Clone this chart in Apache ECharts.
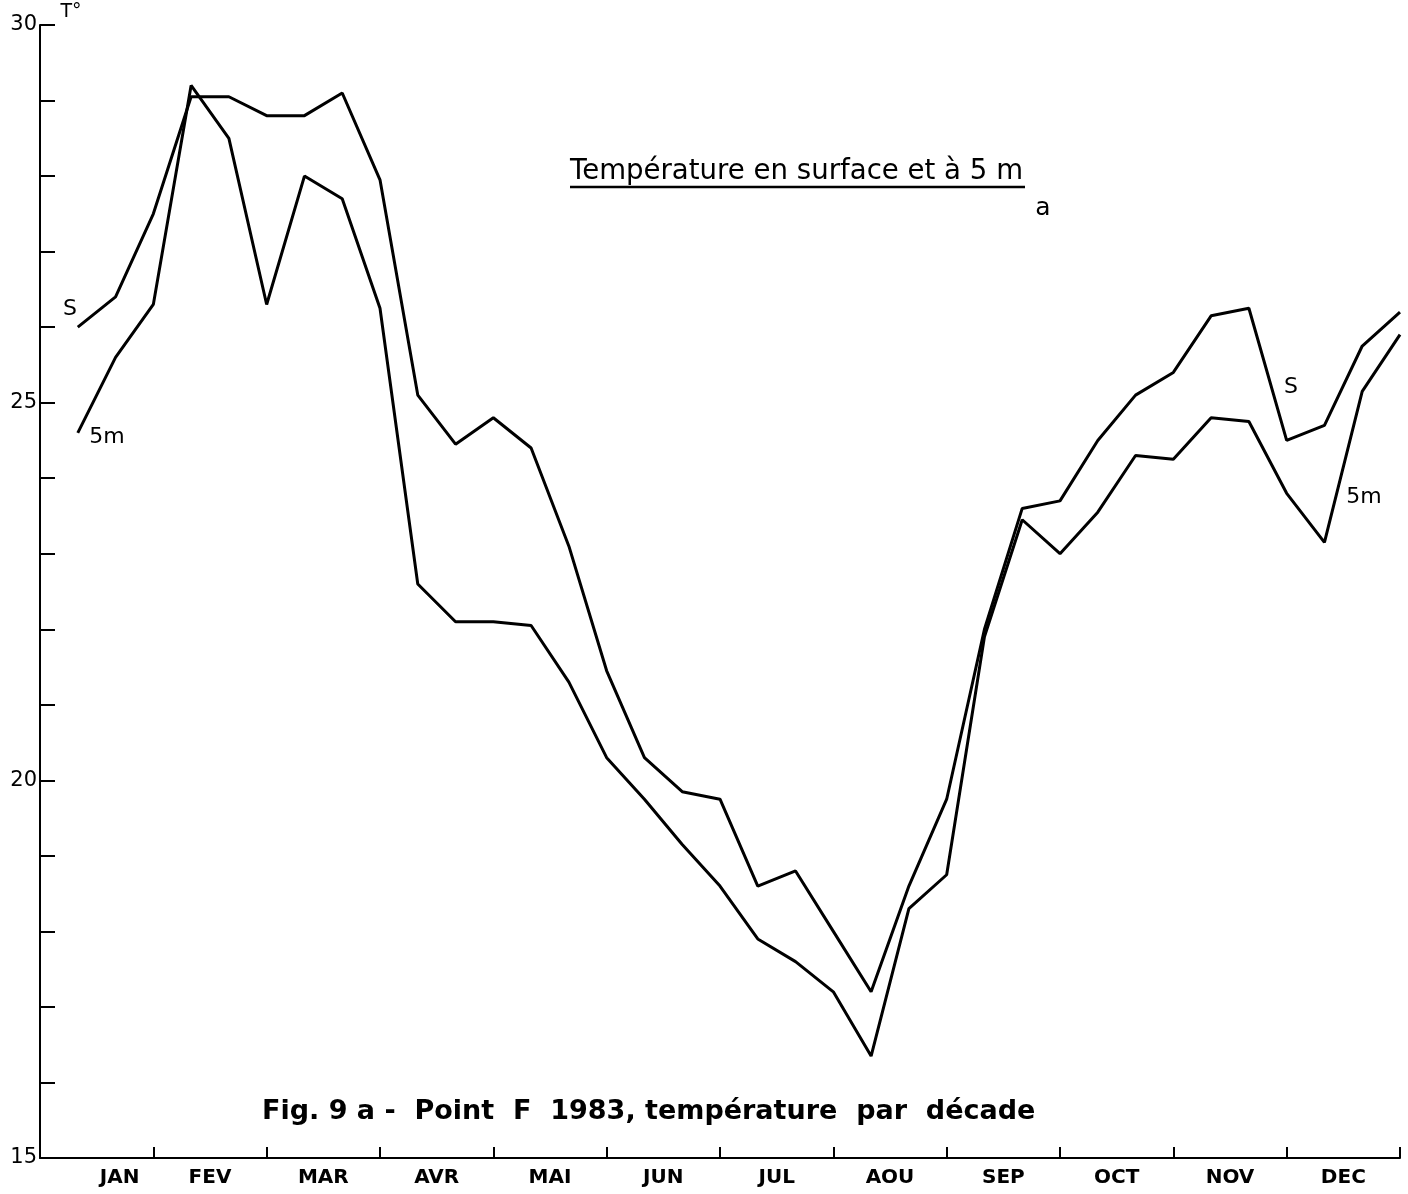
<!DOCTYPE html>
<html><head><meta charset="utf-8">
<script src="https://cdn.jsdelivr.net/npm/echarts@6/dist/echarts.min.js"></script>
<style>html,body{margin:0;padding:0;background:#fff}#c{width:1408px;height:1194px}</style>
</head><body><div id="c"></div>
<script>
const months = ['JAN','FEV','MAR','AVR','MAI','JUN','JUL','AOU','SEP','OCT','NOV','DEC'];
const decades = [1,2,3,4,5,6,7,8,9,10,11,12,13,14,15,16,17,18,19,20,21,22,23,24,25,26,27,28,29,30,31,32,33,34,35,36];
const surface = [26.0,26.4,27.5,29.05,29.05,28.8,28.8,29.1,27.95,25.1,24.45,24.8,
                 24.4,23.1,21.45,20.3,19.85,19.75,18.6,18.8,18.0,17.2,18.6,19.75,
                 22.0,23.6,23.7,24.5,25.1,25.4,26.15,26.25,24.5,24.7,25.75,26.2];
const depth5m = [24.6,25.6,26.3,29.2,28.5,26.3,28.0,27.7,26.25,22.6,22.1,22.1,
                 22.05,21.3,20.3,19.75,19.15,18.6,17.9,17.6,17.2,16.35,18.3,18.75,
                 21.9,23.45,23.0,23.55,24.3,24.25,24.8,24.75,23.8,23.15,25.15,25.9];
const yLabels = [15,20,25,30];

const FONT = 'DejaVu Sans';
const chart = echarts.init(document.getElementById('c'), null, {renderer:'canvas'});
const lineStyle = {color:'#000', width:3};
function txt(x, y, text, size, opts) {
  return {type:'text', x:x, y:y, style:Object.assign({
    text:text, fontSize:size, fontFamily:FONT, fill:'#000',
    textAlign:'center', textVerticalAlign:'middle'}, opts || {})};
}
const monthData = months.map((m, i) => i === 0 ? {value:m, textStyle:{padding:[0,0,0,46]}} : m);
chart.setOption({
  animation:false,
  backgroundColor:'#fff',
  grid:{left:40, top:25, width:1360, height:1133},
  xAxis:[
    {type:'value', min:0, max:36, interval:3,
     axisLine:{show:true, lineStyle:{color:'#000', width:2}},
     axisTick:{show:true, inside:true, length:11, lineStyle:{color:'#000', width:2}},
     axisLabel:{show:false}, splitLine:{show:false}},
    {type:'category', data:monthData, position:'bottom', boundaryGap:true,
     axisLine:{show:false}, axisTick:{show:false}, splitLine:{show:false},
     axisLabel:{color:'#000', fontSize:20, fontWeight:'bold', fontFamily:FONT, margin:10}}
  ],
  yAxis:{type:'value', min:15, max:30, interval:1,
     axisLine:{show:true, lineStyle:{color:'#000', width:2}},
     axisTick:{show:true, inside:true, length:15, lineStyle:{color:'#000', width:2}},
     splitLine:{show:false},
     axisLabel:{color:'#000', fontSize:21, fontFamily:FONT, margin:3, padding:[0,0,14,0],
       formatter:v => yLabels.includes(v) ? String(v) : ''}},
  series:[
    {type:'line', name:'S', xAxisIndex:0, data:decades.map((d,i)=>[d,surface[i]]),
     showSymbol:false, symbol:'none', lineStyle:lineStyle},
    {type:'line', name:'5m', xAxisIndex:0, data:decades.map((d,i)=>[d,depth5m[i]]),
     showSymbol:false, symbol:'none', lineStyle:lineStyle}
  ],
  graphic:[
    txt(71, 12, 'T°', 19),
    txt(570, 172, 'Température en surface et à 5 m', 27.6, {textAlign:'left'}),
    {type:'line', shape:{x1:570, y1:187, x2:1025, y2:187}, style:{stroke:'#000', lineWidth:2.5}},
    txt(1043, 208, 'a', 25),
    txt(70, 309, 'S', 22),
    txt(107, 437, '5m', 22),
    txt(1291, 387, 'S', 22),
    txt(1364, 497, '5m', 22),
    txt(262, 1112, 'Fig. 9 a -  Point  F  1983, température  par  décade', 27, {textAlign:'left', fontWeight:'bold'})
  ]
});
</script></body></html>
